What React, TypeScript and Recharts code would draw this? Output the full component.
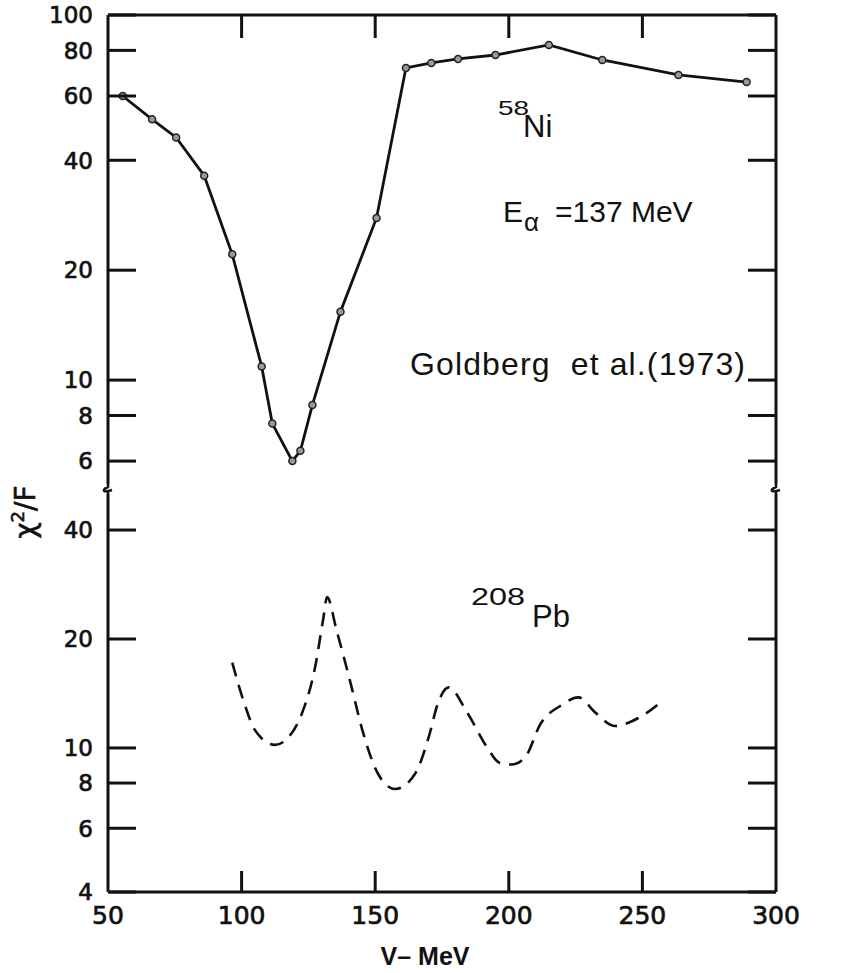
import React from 'react';
import { LineChart, Line, XAxis, YAxis } from 'recharts';

// 58Ni, Goldberg et al. (1973): V (MeV) vs chi^2/F, measured points
const niV = [55.5, 66.5, 75.5, 86, 96.5, 107.5, 111.5, 119, 122, 126.5, 137, 150.5, 161.5, 171, 181, 195, 215, 235, 263.5, 289];
const niChi = [60, 51.8, 46.2, 36.3, 22.1, 10.9, 7.6, 6.0, 6.4, 8.55, 15.4, 27.8, 71.6, 73.9, 75.8, 77.7, 82.8, 75.3, 68.5, 65.5];

// 208Pb dashed curve, read along its length
const pbV = [96.5, 101, 105, 112.5, 117.5, 123, 127.5, 130.5, 132, 135.5, 140.5, 145.5, 151, 157.5, 165, 170, 173.5, 177.5, 184.5, 192, 196.5, 201, 206, 212, 219.5, 226, 232.5, 239.5, 248.5, 257.5];
const pbChi = [17.2, 13.3, 11.2, 10.2, 10.7, 12.7, 16.7, 22.6, 26.1, 21.2, 15.4, 11.0, 8.5, 7.7, 8.5, 10.7, 13.3, 14.7, 12.5, 10.0, 9.1, 9.0, 9.4, 11.7, 13.1, 13.8, 12.5, 11.5, 12.1, 13.5];

const xTicks = [50, 100, 150, 200, 250, 300];
const niTicks = [6, 8, 10, 20, 40, 60, 80, 100];
const pbTicks = [4, 6, 8, 10, 20, 40];

const niData = niV.map((v, i) => ({ v, chi: niChi[i] }));
const pbData = pbV.map((v, i) => ({ v, chi: pbChi[i] }));

const INK = '#111';
const axisStyle = { stroke: INK, strokeWidth: 3 };
const tickFont = '"DejaVu Sans", sans-serif';
const textFont = '"Liberation Sans", Arial, sans-serif';

const leftTick = (p: any) => (
  <g>
    <line x1={p.x} y1={p.y} x2={p.x + 28} y2={p.y} stroke={INK} strokeWidth={3} />
    <text x={p.x - 15} y={p.y} dy="0.36em" textAnchor="end" fontSize={23} fontFamily={tickFont}
      fill={INK} stroke={INK} strokeWidth={0.7}>
      {p.payload.value}
    </text>
  </g>
);

const rightTick = (p: any) => (
  <line x1={p.x} y1={p.y} x2={p.x - 28} y2={p.y} stroke={INK} strokeWidth={3} />
);

const topTick = (p: any) => {
  const v = p.payload.value;
  if (v === 50 || v === 300) return <g />;
  return <line x1={p.x} y1={p.y} x2={p.x} y2={p.y + 23} stroke={INK} strokeWidth={3} />;
};

const bottomTick = (p: any) => {
  const v = p.payload.value;
  return (
    <g>
      {v !== 50 && v !== 300 && <line x1={p.x} y1={p.y} x2={p.x} y2={p.y - 21} stroke={INK} strokeWidth={3} />}
      <text x={p.x} y={p.y + 32} textAnchor="middle" fontSize={25} fontFamily={tickFont}
        fill={INK} stroke={INK} strokeWidth={0.7}>
        {v}
      </text>
    </g>
  );
};

export default function App() {
  return (
    <div style={{ position: 'absolute', left: 0, top: 0, width: 844, height: 973, background: '#fff' }}>
      <div style={{ position: 'absolute', left: 0, top: 0 }}>
        <LineChart width={844} height={490} data={niData} margin={{ top: 14, right: 67, bottom: 0, left: 0 }}>
          <XAxis xAxisId="v" dataKey="v" type="number" domain={[50, 300]} ticks={xTicks} orientation="top"
            height={1} axisLine={axisStyle} tickLine={false} tickSize={0} tickMargin={0} interval={0}
            tick={topTick} allowDataOverflow />
          <YAxis yAxisId="l" type="number" scale="log" domain={[5, 100]} ticks={niTicks} width={108}
            axisLine={axisStyle} tickLine={false} tickSize={0} tickMargin={0} interval={0}
            tick={leftTick} allowDataOverflow />
          <YAxis yAxisId="r" orientation="right" type="number" scale="log" domain={[5, 100]} ticks={niTicks} width={1}
            axisLine={axisStyle} tickLine={false} tickSize={0} tickMargin={0} interval={0}
            tick={rightTick} allowDataOverflow />
          <Line xAxisId="v" yAxisId="l" dataKey="chi" type="linear" stroke={INK} strokeWidth={2.8}
            dot={{ r: 3.5, fill: '#999', stroke: '#222', strokeWidth: 1.5 }} isAnimationActive={false} />
        </LineChart>
      </div>
      <div style={{ position: 'absolute', left: 0, top: 490 }}>
        <LineChart width={844} height={483} data={pbData} margin={{ top: 0, right: 67, bottom: 0, left: 0 }}>
          <XAxis xAxisId="v" dataKey="v" type="number" domain={[50, 300]} ticks={xTicks} orientation="bottom"
            height={81} axisLine={axisStyle} tickLine={false} tickSize={0} tickMargin={0} interval={0}
            tick={bottomTick} allowDataOverflow />
          <YAxis yAxisId="l" type="number" scale="log" domain={[4, 51.6]} ticks={pbTicks} width={108}
            axisLine={axisStyle} tickLine={false} tickSize={0} tickMargin={0} interval={0}
            tick={leftTick} allowDataOverflow />
          <YAxis yAxisId="r" orientation="right" type="number" scale="log" domain={[4, 51.6]} ticks={pbTicks} width={1}
            axisLine={axisStyle} tickLine={false} tickSize={0} tickMargin={0} interval={0}
            tick={rightTick} allowDataOverflow />
          <Line xAxisId="v" yAxisId="l" dataKey="chi" type="monotone" stroke={INK} strokeWidth={2.6}
            strokeDasharray="14 9" dot={false} isAnimationActive={false} />
        </LineChart>
      </div>
      <svg width={844} height={973} style={{ position: 'absolute', left: 0, top: 0, pointerEvents: 'none' }}>
        {/* axis breaks */}
        <rect x={100} y={484} width={16} height={10} fill="#fff" />
        <path d="M108 484 L108 487 C101 490 103 493 112 490 M108 491 L108 494" stroke={INK} strokeWidth={2.5} fill="none" />
        <rect x={768} y={484} width={16} height={10} fill="#fff" />
        <path d="M776 484 L776 487 C769 490 771 493 780 490 M776 491 L776 494" stroke={INK} strokeWidth={2.5} fill="none" />

        <text x={35} y={512} transform="rotate(-90 35 512)" textAnchor="middle" fontSize={28} fontFamily={tickFont}
          fill={INK} stroke={INK} strokeWidth={0.6}>
          χ<tspan dy={-11} fontSize={18}>2</tspan><tspan dy={11}>/F</tspan>
        </text>

        <text x={498} y={115} fontSize={21} fontFamily={textFont} fill={INK} textLength={31} lengthAdjust="spacingAndGlyphs">58</text>
        <text x={523} y={137} fontSize={31} fontFamily={textFont} fill={INK}>Ni</text>

        <text x={503} y={222} fontSize={30} fontFamily={textFont} fill={INK}>E</text>
        <text x={524} y={231} fontSize={26} fontFamily={textFont} fill={INK}>α</text>
        <text x={555} y={222} fontSize={30} fontFamily={textFont} fill={INK}>=137 MeV</text>

        <text x={410} y={375} fontSize={32} fontFamily={textFont} fill={INK} textLength={335}
          lengthAdjust="spacing" style={{ whiteSpace: 'pre' }}>
          {'Goldberg  et al.(1973)'}
        </text>

        <text x={471} y={605} fontSize={23} fontFamily={textFont} fill={INK} textLength={54} lengthAdjust="spacingAndGlyphs">208</text>
        <text x={532} y={627} fontSize={31} fontFamily={textFont} fill={INK}>Pb</text>

        <text x={425} y={965} textAnchor="middle" fontSize={25} fontWeight="bold" fontFamily={textFont} fill={INK}>
          V– MeV
        </text>
      </svg>
    </div>
  );
}
